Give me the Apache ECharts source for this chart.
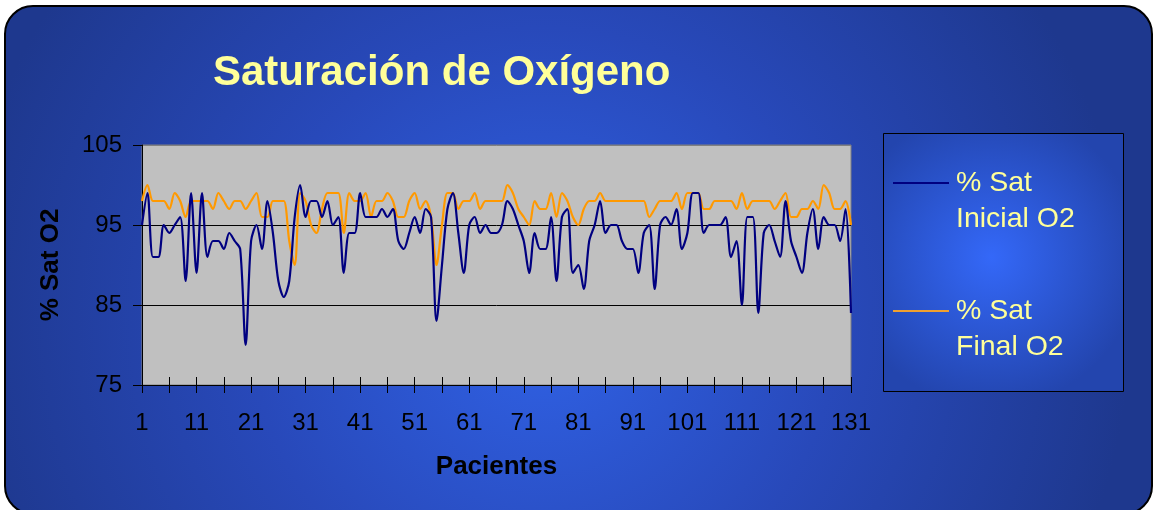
<!DOCTYPE html>
<html>
<head>
<meta charset="utf-8">
<script src="https://cdn.jsdelivr.net/npm/echarts@6/dist/echarts.min.js"></script>
<style>
html,body{margin:0;padding:0;background:#fff;}
#chart{width:1155px;height:510px;}
</style>
</head>
<body>
<div id="chart"></div>
<script>
var patients = [];
for (var k = 1; k <= 131; k++) patients.push(String(k));

var satInicial = [95,99,91,91,95,94,95,96,88,99,
89,99,91,93,93,92,94,93,92,80,
93,95,92,98,94,88,86,88,96,100,
96,98,98,96,98,95,96,89,94,94,
99,96,96,96,97,96,97,93,92,94,
96,94,97,96,83,90,97,99,94,89,
95,96,94,95,94,94,95,98,97,95,
93,89,94,92,92,96,88,96,97,89,
90,87,93,95,98,94,95,95,93,92,
92,89,94,95,87,95,96,95,97,92,
94,99,99,94,95,95,95,96,91,93,
85,96,96,84,94,95,93,91,98,93,
91,89,94,97,92,96,95,95,93,97,84];

var satFinal = [98,100,98,98,98,97,99,98,96,98,
98,98,98,97,99,98,97,98,98,97,
98,99,96,96,98,98,98,93,90,99,
98,95,94,97,99,99,99,94,99,98,
98,99,96,98,98,99,98,96,96,98,
99,97,98,96,90,95,99,99,97,98,
98,99,97,98,98,98,98,100,99,97,
96,95,98,97,97,99,96,99,98,96,
95,97,98,98,99,98,98,98,98,98,
98,98,98,96,97,98,98,98,99,97,
99,99,99,97,97,98,98,98,98,97,
99,97,98,98,98,98,97,98,99,96,
96,97,97,98,97,100,99,97,97,98,95];

var yTicks = [75, 85, 95, 105];
var titleText = 'Saturación de Oxígeno';
var nameInicial = '% Sat Inicial O2';
var nameFinal = '% Sat Final O2';

var FONT = 'Arial, "Liberation Sans", sans-serif';
var chart = echarts.init(document.getElementById('chart'), null, {renderer: 'canvas'});

var option = {
  backgroundColor: '#ffffff',
  animation: false,
  graphic: [
    {
      type: 'rect', z: -10, silent: true,
      shape: {x: 5, y: 6, width: 1147, height: 508, r: 28},
      style: {
        fill: {type: 'radial', x: 0.47, y: 0.62, r: 1.15,
          colorStops: [{offset: 0, color: '#3062E6'}, {offset: 0.5, color: '#2849BA'}, {offset: 1, color: '#1E388E'}]},
        stroke: '#000', lineWidth: 2
      }
    },
    {
      type: 'rect', z: -5, silent: true,
      shape: {x: 883.5, y: 133.5, width: 240, height: 258},
      style: {
        fill: {type: 'radial', x: 0.45, y: 0.48, r: 0.62,
          colorStops: [{offset: 0, color: '#3468F8'}, {offset: 1, color: '#2345AE'}]},
        stroke: '#000', lineWidth: 1
      }
    }
  ],
  title: {
    text: titleText,
    left: 208, top: 47,
    textStyle: {color: '#FFFF99', fontSize: 42, fontWeight: 'bold', fontFamily: FONT}
  },
  legend: {
    orient: 'vertical',
    left: 893, top: 129, padding: 0,
    itemWidth: 56, itemHeight: 14, itemGap: 20,
    icon: 'path://M0,6 L56,6 L56,8 L0,8 Z',
    data: [nameInicial, nameFinal],
    formatter: function (n) {
      return n === nameInicial ? '\n% Sat\nInicial O2' : '\n% Sat\nFinal O2';
    },
    textStyle: {color: '#FFFF99', fontSize: 28.5, fontFamily: FONT, lineHeight: 36, padding: [0, 0, 0, 2]}
  },
  grid: {
    left: 142, top: 145, right: 304, bottom: 125,
    show: true, backgroundColor: '#C0C0C0', borderColor: '#808080', borderWidth: 1
  },
  xAxis: [
    {
      type: 'category', data: patients, boundaryGap: false, position: 'bottom',
      name: 'Pacientes', nameLocation: 'middle', nameGap: 69,
      nameTextStyle: {color: '#000', fontSize: 26, fontWeight: 'bold', fontFamily: FONT},
      axisLine: {show: true, lineStyle: {color: '#000', width: 1}},
      axisTick: {show: true, inside: true, length: 8, interval: 4, lineStyle: {color: '#000'}},
      axisLabel: {interval: 9, margin: 26, color: '#000', fontSize: 24, fontFamily: FONT},
      splitLine: {show: false}
    },
    {
      type: 'category', data: patients, boundaryGap: false, position: 'bottom', offset: 0,
      axisLine: {show: false},
      axisTick: {show: true, inside: false, length: 8, interval: 4, lineStyle: {color: '#000'}},
      axisLabel: {show: false},
      splitLine: {show: false}
    }
  ],
  yAxis: {
    type: 'value', min: yTicks[0], max: yTicks[yTicks.length - 1], interval: 10,
    name: '% Sat O2', nameLocation: 'middle', nameGap: 78, nameRotate: 90,
    nameTextStyle: {color: '#000', fontSize: 26, fontWeight: 'bold', fontFamily: FONT},
    axisLine: {show: true, lineStyle: {color: '#000', width: 1}},
    axisTick: {show: true, inside: false, length: 9, lineStyle: {color: '#000'}},
    axisLabel: {margin: 20, color: '#000', fontSize: 24, fontFamily: FONT},
    splitLine: {show: true, lineStyle: {color: ['#000', '#000', '#000', '#808080'], width: 1}}
  },
  series: [
    {
      name: nameInicial, type: 'line', data: satInicial, xAxisIndex: 0,
      symbol: 'none', smooth: 0.3,
      lineStyle: {color: '#000080', width: 2.2}, itemStyle: {color: '#000080'}, z: 3
    },
    {
      name: nameFinal, type: 'line', data: satFinal, xAxisIndex: 0,
      symbol: 'none', smooth: 0.3,
      lineStyle: {color: '#FF9900', width: 2.2}, itemStyle: {color: '#F0A030'}, z: 2
    }
  ]
};
chart.setOption(option);
</script>
</body>
</html>
